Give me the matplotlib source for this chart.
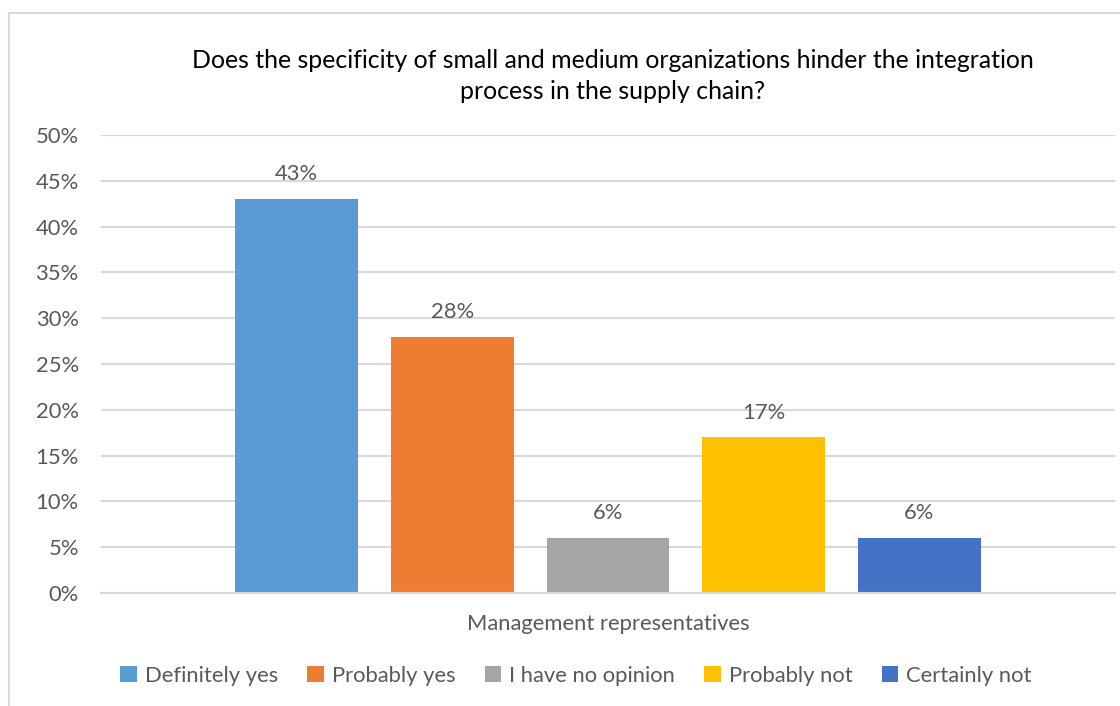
import matplotlib
matplotlib.use("Agg")
import matplotlib.pyplot as plt
from matplotlib.patches import Rectangle, Patch

categories = ["Management representatives"]
series_names = ["Definitely yes", "Probably yes", "I have no opinion", "Probably not", "Certainly not"]
values = [43, 28, 6, 17, 6]
colors = ["#5B9BD5", "#ED7D31", "#A5A5A5", "#FFC000", "#4472C4"]
yticks = [0, 5, 10, 15, 20, 25, 30, 35, 40, 45, 50]
title = "Does the specificity of small and medium organizations hinder the integration\nprocess in the supply chain?"

plt.rcParams['font.family'] = ['Lato', 'DejaVu Sans']
txt = "#595959"
grid = "#D9D9D9"
fs = 15.8

fig = plt.figure(figsize=(11.2, 7.06), dpi=100)
fig.patches.append(Rectangle((9/1120, -0.1), 1.2, 1.1 - 13/706, transform=fig.transFigure,
                             fill=False, edgecolor=grid, linewidth=1.5, zorder=0))
ax = fig.add_axes([101/1120, 1 - 593/706, (1115 - 101)/1120, (593 - 135)/706])

step = 0.1536
width = 0.1213
for i, (name, v, c) in enumerate(zip(series_names, values, colors)):
    x = (i - 2) * step
    ax.bar([x], [v], width=width, color=c, label=name, zorder=2)
    ax.text(x, v + 1.6, f"{v}%", ha="center", va="bottom", fontsize=fs, color=txt)

ax.set_xlim(-0.5, 0.5)
ax.set_ylim(0, 50)
ax.set_yticks(yticks)
ax.set_yticklabels([f"{t}%" for t in yticks])
ax.set_xticks([0])
ax.set_xticklabels(categories)
ax.tick_params(axis="y", length=0, pad=16, labelsize=fs, labelcolor=txt)
ax.tick_params(axis="x", length=0, pad=15, labelsize=fs, labelcolor=txt)
ax.yaxis.grid(True, color=grid, linewidth=1.5, zorder=0)
ax.set_axisbelow(True)
for s in ["top", "right", "left"]:
    ax.spines[s].set_visible(False)
ax.spines["bottom"].set_color(grid)
ax.spines["bottom"].set_linewidth(1.5)

fig.text(613/1120, 1 - 76/706, title, ha="center", va="center", fontsize=17.9,
         color="black", linespacing=1.45)

handles = [Patch(facecolor=c, edgecolor="none") for c in colors]
fig.legend(handles, series_names, loc="center", bbox_to_anchor=(576/1120, 1 - 676/706),
           ncol=5, frameon=False, fontsize=fs, labelcolor=txt, handlelength=0.75,
           handleheight=0.75, handletextpad=0.35, columnspacing=1.35)

fig.savefig("out.png", dpi=100, facecolor="white")
